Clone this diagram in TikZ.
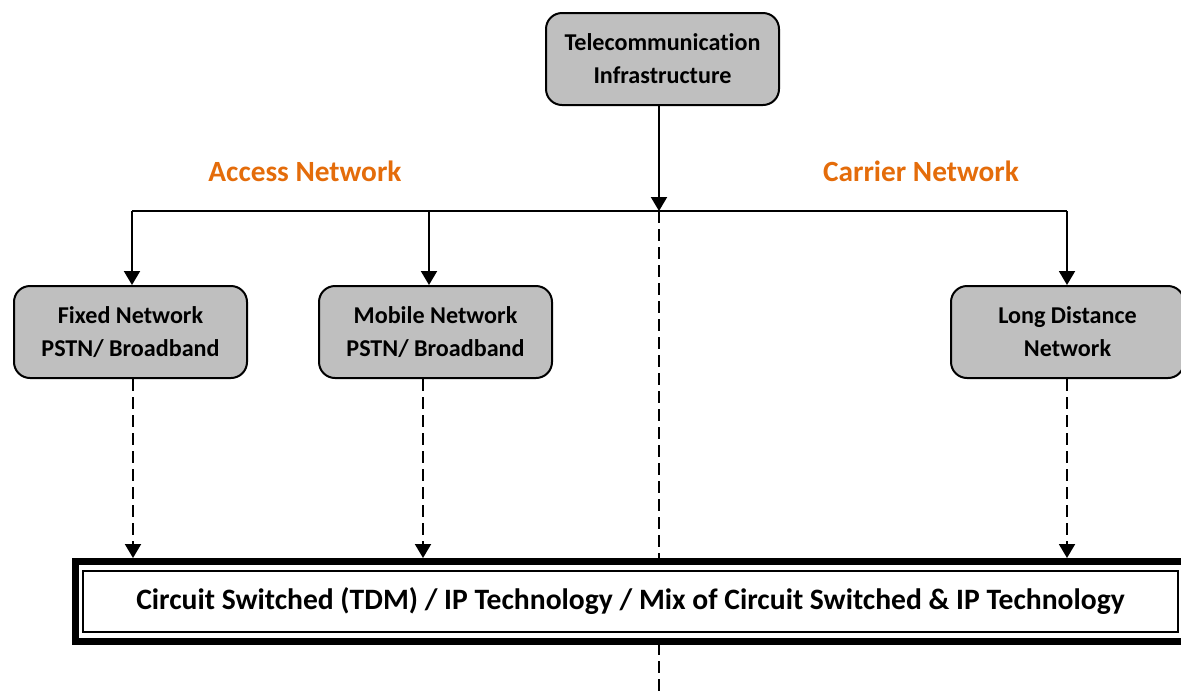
\documentclass[tikz,border=0pt]{standalone}
\usepackage{fontspec}
\setmainfont{Carlito}[Ligatures=NoCommon]
\usetikzlibrary{arrows.meta}
\definecolor{netorange}{RGB}{228,108,10}
\definecolor{netgray}{RGB}{191,191,191}

\begin{document}
\begin{tikzpicture}[x=0.75pt,y=-0.75pt,
    netbox/.style={draw,line width=1.5pt,fill=netgray,rounded corners=12pt,
        minimum width=174.75pt,minimum height=69pt,align=center,
        font=\fontsize{18.1}{24.75}\selectfont\bfseries},
    netlabel/.style={text=netorange,font=\fontsize{22}{26}\selectfont\bfseries},
    solidarrow/.style={line width=1.5pt,-{Triangle[width=12pt,length=10.5pt]}},
    dasharrow/.style={solidarrow,dash pattern=on 9pt off 4.5pt}]
\useasboundingbox (0,0) rectangle (1181,694);
\clip (0,0) rectangle (1181,694);
\node[netbox] (node) at (662.5,59){Telecommunication\\Infrastructure};
\node[netlabel] (label0) at (305,171){Access Network};
\node[netlabel] (label1) at (921,171){Carrier Network};
\node[netbox] (node0) at (130.5,332){Fixed Network\\PSTN/ Broadband};
\node[netbox] (node1) at (435.5,332){Mobile Network\\PSTN/ Broadband};
\node[netbox] (node2) at (1067.5,332){Long Distance\\Network};
\coordinate (split) at (659,211);
\coordinate (branch0) at (132,211);
\coordinate (branch1) at (429,211);
\coordinate (branch2) at (1067,211);
\coordinate (tail) at (659,694);
\draw[solidarrow] (node.south -| split) -- (split);
\draw[line width=1.5pt] (branch0) -- (branch2);
\draw[solidarrow] (branch0) -- (branch0 |- node0.north);
\draw[solidarrow] (branch1) -- (branch1 |- node1.north);
\draw[solidarrow] (branch2) -- (branch2 |- node2.north);
\draw[line width=1.5pt,dash pattern=on 9pt off 4.5pt] (split) -- (tail);
\node[draw,line width=5.25pt,fill=white,minimum width=832.5pt,minimum height=60pt,
    font=\fontsize{22.2}{26}\selectfont\bfseries] (node00) at (630.5,601.5)
    {Circuit Switched (TDM) / IP Technology / Mix of Circuit Switched \& IP Technology};
\draw[line width=1.5pt] ([shift={(11,12.5)}]node00.north west) rectangle ([shift={(-11,-13.5)}]node00.south east);
\draw[dasharrow] (node0.south -| 133,0) -- (node00.north -| 133,0);
\draw[dasharrow] (node1.south -| 423,0) -- (node00.north -| 423,0);
\draw[dasharrow] (node2.south -| 1067,0) -- (node00.north -| 1067,0);
\end{tikzpicture}
\end{document}
